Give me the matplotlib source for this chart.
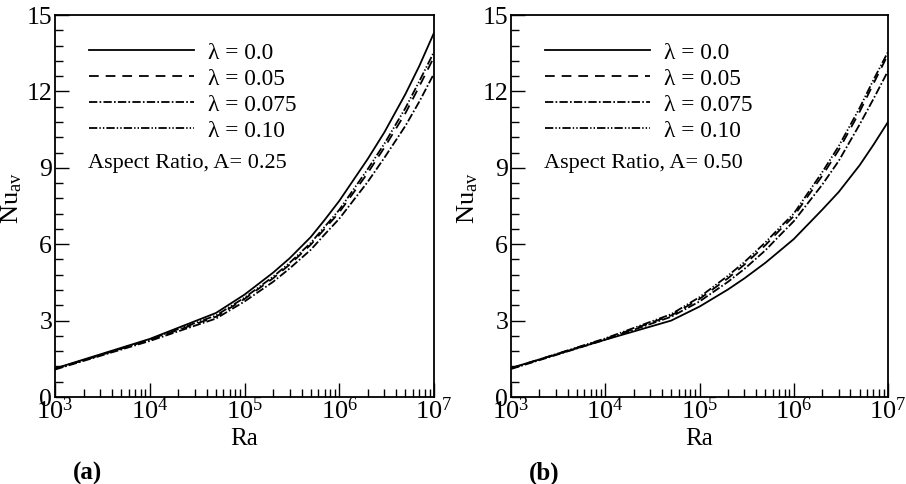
import matplotlib
matplotlib.use("Agg")
import matplotlib.pyplot as plt
from matplotlib.ticker import MultipleLocator, LogLocator, LogFormatterSciNotation, NullFormatter

plt.rcParams['font.family'] = 'serif'
plt.rcParams['font.serif'] = ['Liberation Serif', 'DejaVu Serif']
plt.rcParams['mathtext.fontset'] = 'custom'
plt.rcParams['mathtext.rm'] = 'Liberation Serif'
plt.rcParams['mathtext.it'] = 'Liberation Serif:italic'
plt.rcParams['lines.scale_dashes'] = False

# ---- data ----
Ra = [1e3, 1e4, 5e4, 1e5, 2e5, 3e5, 5e5, 7e5, 1e6, 2e6, 3e6, 5e6, 7e6, 1e7]
labels = ['λ = 0.0', 'λ = 0.05', 'λ = 0.075', 'λ = 0.10']

# Panel (a): A = 0.25
a_l000 = [1.12, 2.28, 3.30, 4.02, 4.88, 5.45, 6.28, 6.95, 7.70, 9.35, 10.40, 11.90, 13.00, 14.30]
a_l050 = [1.10, 2.24, 3.15, 3.85, 4.66, 5.20, 5.98, 6.60, 7.25, 8.80, 9.80, 11.15, 12.20, 13.35]
a_l075 = [1.08, 2.20, 3.08, 3.75, 4.52, 5.05, 5.78, 6.38, 7.00, 8.45, 9.40, 10.65, 11.60, 12.70]
a_l100 = [1.10, 2.26, 3.20, 3.90, 4.72, 5.27, 6.05, 6.68, 7.35, 8.95, 9.95, 11.35, 12.40, 13.55]

# Panel (b): A = 0.50
b_l000 = [1.14, 2.25, 3.00, 3.55, 4.22, 4.66, 5.27, 5.72, 6.20, 7.35, 8.05, 9.10, 9.90, 10.80]
b_l050 = [1.12, 2.28, 3.20, 3.85, 4.66, 5.20, 5.96, 6.53, 7.10, 8.68, 9.70, 11.20, 12.30, 13.45]
b_l075 = [1.10, 2.25, 3.15, 3.75, 4.52, 5.03, 5.76, 6.32, 6.90, 8.33, 9.27, 10.70, 11.70, 12.80]
b_l100 = [1.12, 2.30, 3.25, 3.92, 4.76, 5.30, 6.07, 6.63, 7.20, 8.82, 9.85, 11.35, 12.45, 13.55]

styles = ['-', (0, (7, 5)), (0, (6, 1.6, 1.2, 1.6)), (0, (6, 1.5, 1.0, 1.5, 1.0, 1.5))]

fig = plt.figure(figsize=(9.06, 4.84), dpi=100)
ax1 = fig.add_axes([55/906, 87/484, 379/906, 382/484])
ax2 = fig.add_axes([511/906, 87/484, 377/906, 382/484])

panels = [
    (ax1, [a_l000, a_l050, a_l075, a_l100], 'Aspect Ratio, A= 0.25', '(a)'),
    (ax2, [b_l000, b_l050, b_l075, b_l100], 'Aspect Ratio, A= 0.50', '(b)'),
]

for ax, series, note, tag in panels:
    for ys, ls, lab in zip(series, styles, labels):
        ax.plot(Ra, ys, color='black', lw=1.3, linestyle=ls, label=lab)
    ax.set_xscale('log')
    ax.set_xlim(1e3, 1e7)
    ax.set_ylim(0, 15)
    ax.yaxis.set_major_locator(MultipleLocator(3))
    ax.yaxis.set_minor_locator(MultipleLocator(0.6))
    ax.xaxis.set_major_locator(LogLocator(base=10, numticks=10))
    ax.xaxis.set_minor_locator(LogLocator(base=10, subs=range(2, 10), numticks=20))
    ax.xaxis.set_major_formatter(LogFormatterSciNotation())
    ax.xaxis.set_minor_formatter(NullFormatter())
    ax.tick_params(which='both', direction='in', top=False, right=False, width=1.0)
    ax.tick_params(axis='y', labelsize=18.5, pad=2)
    ax.tick_params(axis='x', labelsize=19, pad=0)
    ax.tick_params(which='major', length=10)
    ax.tick_params(which='minor', length=6)
    for sp in ax.spines.values():
        sp.set_linewidth(1.3)
    ax.set_xlabel('Ra', fontsize=18, labelpad=3)
    ax.set_ylabel(r'Nu$_{\mathregular{av}}$', fontsize=19)
    ax.yaxis.set_label_coords(-0.082, 0.52)
    ax.legend(loc='upper left', bbox_to_anchor=(0.065, 0.953), frameon=False,
              fontsize=16.8, handlelength=4.5, handletextpad=0.6, labelspacing=0.2,
              borderaxespad=0)
    ax.text(0.087, 0.61, note, transform=ax.transAxes, fontsize=16, va='center', ha='left')
    ax.text(0.048, -0.20, tag, transform=ax.transAxes, fontsize=18, fontweight='bold',
            va='center', ha='left')

fig.savefig('out.png', dpi=100)
